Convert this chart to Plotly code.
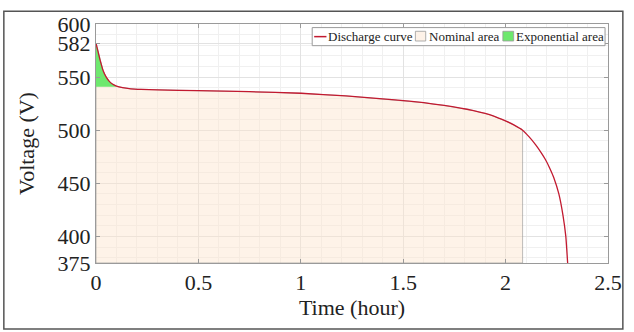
import plotly.graph_objects as go

# Discharge curve
time_h = [0, 0.01, 0.02, 0.035, 0.05, 0.065, 0.08, 0.1, 0.13, 0.17, 0.22, 0.3, 0.5, 0.75,
          1.0, 1.22, 1.46, 1.6, 1.7, 1.78, 1.843, 1.9, 1.939, 2.002, 2.04, 2.083, 2.115,
          2.147, 2.175, 2.195, 2.215, 2.235, 2.26, 2.28, 2.294, 2.303]
voltage = [582, 574, 566, 556, 550, 546, 543.5, 541.5, 540, 539, 538.5, 538, 537.2, 536.3,
           534.8, 532.3, 528.6, 525.9, 523.3, 520.9, 518.5, 515.8, 513.5, 508.5, 505, 500, 493.7,
           486.2, 478.5, 472.2, 464.5, 455.5, 440, 420, 400, 375]

exp_end_t = 0.1       # end of exponential zone
exp_base_v = 541      # lower edge of exponential area
nom_end_t = 2.083     # end of nominal zone
v_min, v_max = 375, 600
t_min, t_max = 0, 2.5
y_ticks = [375, 400, 450, 500, 550, 582, 600]
x_ticks = [0, 0.5, 1, 1.5, 2, 2.5]
legend_labels = ["Discharge curve", "Nominal area", "Exponential area"]

serif = "Liberation Serif, Times New Roman, serif"
RED = "#c21a30"
BEIGE = "rgba(252,228,205,0.45)"
GREEN = "rgb(110,232,110)"

# nominal polygon
nom_t = [t for t in time_h if t <= nom_end_t]
nom_v = voltage[:len(nom_t)]
nom_x = nom_t + [nom_end_t, 0, 0]
nom_y = nom_v + [v_min, v_min, nom_v[0]]

exp_t = [t for t in time_h if t <= exp_end_t]
exp_v = voltage[:len(exp_t)]
exp_x = exp_t + [exp_end_t, 0]
exp_y = exp_v + [exp_base_v, exp_base_v]

fig = go.Figure()
fig.add_trace(go.Scatter(x=nom_x, y=nom_y, fill="toself", mode="lines",
                         line=dict(width=0.8, color="rgba(150,150,150,0.8)"),
                         fillcolor=BEIGE, name=legend_labels[1], showlegend=False))
fig.add_trace(go.Scatter(x=exp_x, y=exp_y, fill="toself", mode="lines",
                         line=dict(width=0), fillcolor=GREEN,
                         name=legend_labels[2], showlegend=False))
fig.add_trace(go.Scatter(x=time_h, y=voltage, mode="lines",
                         line=dict(color=RED, width=1.3, shape="spline", smoothing=0.4),
                         name=legend_labels[0], showlegend=False))

axis_common = dict(
    showline=True, linecolor="#9a9a9a", linewidth=1, mirror="ticks",
    ticks="inside", ticklen=4, tickcolor="#9a9a9a",
    showgrid=True, gridcolor="#e2e2e2", gridwidth=1, zeroline=False,
    tickfont=dict(family=serif, size=22, color="#222"),
)

fig.update_xaxes(range=[t_min, t_max], tickvals=x_ticks, **axis_common,
                 minor=dict(dtick=0.1, showgrid=True, gridcolor="#f0f0f0", ticks=""),
                 title=dict(text="Time (hour)", font=dict(family=serif, size=22, color="#222"),
                            standoff=0))
fig.update_yaxes(range=[v_min, v_max], tickvals=y_ticks, **axis_common,
                 minor=dict(tickvals=list(range(380, 600, 10)), showgrid=True,
                            gridcolor="#f0f0f0", ticks=""),
                 title=dict(text="Voltage (V)", font=dict(family=serif, size=22, color="#222"),
                            standoff=16))

# custom compact legend (pixel layout converted to paper coords)
L, T, W, H = 96, 17, 521, 246
def px(x):
    return (x - L) / W
def py(y):
    return 1 - (y - T) / H

shapes = [
    dict(type="rect", xref="paper", yref="paper", x0=-0.180, x1=1.029, y0=-0.276, y1=1.053,
         line=dict(color="#555", width=1.5), layer="below"),
    dict(type="rect", xref="paper", yref="paper", x0=px(316), x1=px(614), y0=py(39.3), y1=py(20.7),
         line=dict(color="#9a9a9a", width=1), fillcolor="white", layer="above"),
    dict(type="line", xref="paper", yref="paper", x0=px(318), x1=px(330.5), y0=py(30), y1=py(30),
         line=dict(color=RED, width=1.5), layer="above"),
    dict(type="rect", xref="paper", yref="paper", x0=px(421), x1=px(431.5), y0=py(34.5), y1=py(24.5),
         line=dict(color="#9a9a9a", width=0.8), fillcolor="rgb(253,242,232)", layer="above"),
    dict(type="rect", xref="paper", yref="paper", x0=px(510), x1=px(521), y0=py(34.5), y1=py(24.5),
         line=dict(color="#9a9a9a", width=0.8), fillcolor=GREEN, layer="above"),
]
annotations = [
    dict(text=legend_labels[0], x=px(331), y=py(30)),
    dict(text=legend_labels[1], x=px(434), y=py(30)),
    dict(text=legend_labels[2], x=px(522), y=py(30)),
]
for a in annotations:
    a.update(xref="paper", yref="paper", xanchor="left", yanchor="middle", showarrow=False,
             font=dict(family=serif, size=13, color="#222"), borderpad=0)

fig.update_layout(
    width=634, height=332,
    margin=dict(l=96, r=17, t=17, b=69),
    plot_bgcolor="white", paper_bgcolor="white",
    showlegend=False,
    shapes=shapes, annotations=annotations,
)

fig.write_html("out.html")
